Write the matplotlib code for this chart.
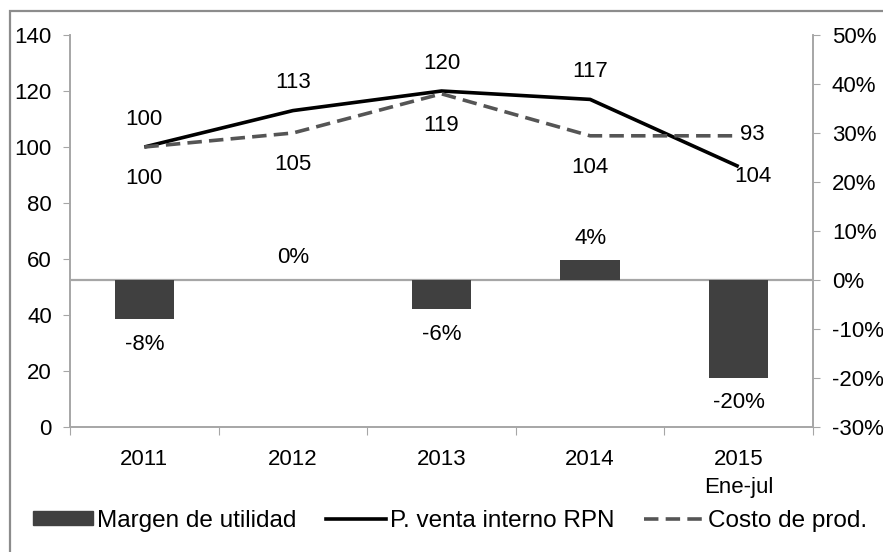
import matplotlib
matplotlib.use("Agg")
import matplotlib.pyplot as plt
from matplotlib.patches import Rectangle

plt.rcParams["font.family"] = ["Liberation Sans", "DejaVu Sans"]
plt.rcParams["font.size"] = 16

# data
categories = ["2011", "2012", "2013", "2014", "2015\nEne-jul"]
margen = [-8, 0, -6, 4, -20]           # % (right axis)
precio = [100, 113, 120, 117, 93]      # P. venta interno RPN (left axis)
costo = [100, 105, 119, 104, 104]      # Costo de prod. (left axis)
margen_labels = ["-8%", "0%", "-6%", "4%", "-20%"]
precio_labels = ["100", "113", "120", "117", "93"]
costo_labels = ["100", "105", "119", "104", "104"]

GRID = "#a6a6a6"
BAR = "#404040"
DASH = "#555555"

fig = plt.figure(figsize=(8.83, 5.52), dpi=100)
fig.patches.append(Rectangle((10 / 883, -0.1), 1.2, 1 - 11 / 552 + 0.1,
                             transform=fig.transFigure, fill=False,
                             edgecolor="#8c8c8c", linewidth=1.6))

ax = fig.add_axes([70 / 883, 1 - 427 / 552, (813 - 70) / 883, (427 - 35) / 552])
ax2 = ax.twinx()
x = list(range(len(categories)))

# bars on the secondary axis, lines on the primary
ax2.bar(x, margen, width=0.4, color=BAR, zorder=2)
ax2.axhline(0, color=GRID, linewidth=1.6, zorder=1)
ax2.set_ylim(-30, 50)
ax2.set_yticks(range(-30, 51, 10))
ax2.set_yticklabels([f"{v}%" for v in range(-30, 51, 10)])

ax.set_zorder(ax2.get_zorder() + 1)
ax.patch.set_visible(False)
ax.plot(x, precio, color="black", linewidth=2.6, solid_capstyle="butt", zorder=3)
ax.plot(x, costo, color=DASH, linewidth=2.6, dashes=(4, 2), zorder=3)
ax.set_ylim(0, 140)
ax.set_yticks(range(0, 141, 20))
ax.set_xlim(-0.5, 4.5)
ax.set_xticks([i - 0.5 for i in range(len(categories) + 1)])
ax.set_xticklabels([])
ax.set_xticks(x, minor=True)
ax.set_xticklabels(categories, minor=True, linespacing=1.45)
ax.tick_params(axis="x", which="major", length=6, color=GRID, direction="out")
ax.tick_params(axis="x", which="minor", length=0, pad=16)
ax.tick_params(axis="y", length=5, color=GRID, pad=8)
ax2.tick_params(axis="y", length=5, color=GRID, pad=8.5)

for a in (ax, ax2):
    a.spines["top"].set_visible(False)
    for s in ("left", "right", "bottom"):
        a.spines[s].set_color(GRID)
        a.spines[s].set_linewidth(1.2)

# data labels
for i in x:
    dx = 10 if i == 4 else 0
    ax.annotate(precio_labels[i], (i, precio[i]), xytext=(dx, 20 if i < 4 else 23),
                textcoords="offset points", ha="center", va="center")
    ax.annotate(costo_labels[i], (i, costo[i]), xytext=(dx, -23 if i < 4 else -29),
                textcoords="offset points", ha="center", va="center")
    off = 16 if margen[i] >= 0 else -18
    ax2.annotate(margen_labels[i], (i, margen[i]), xytext=(0, off),
                 textcoords="offset points", ha="center", va="center")

h1, = ax.plot([], [], color="black", linewidth=2.6)
h2, = ax.plot([], [], color=DASH, linewidth=2.6, dashes=(4, 2))
fig.legend([Rectangle((0, 0), 1, 1, color=BAR), h1, h2],
           ["Margen de utilidad", "P. venta interno RPN", "Costo de prod."],
           loc="center", bbox_to_anchor=(0.51, 1 - 521 / 552), ncol=3,
           frameon=False, fontsize=17.5, handlelength=2.45, handletextpad=0.2,
           columnspacing=1.2, handleheight=0.5)

fig.savefig("out.png", dpi=100)
